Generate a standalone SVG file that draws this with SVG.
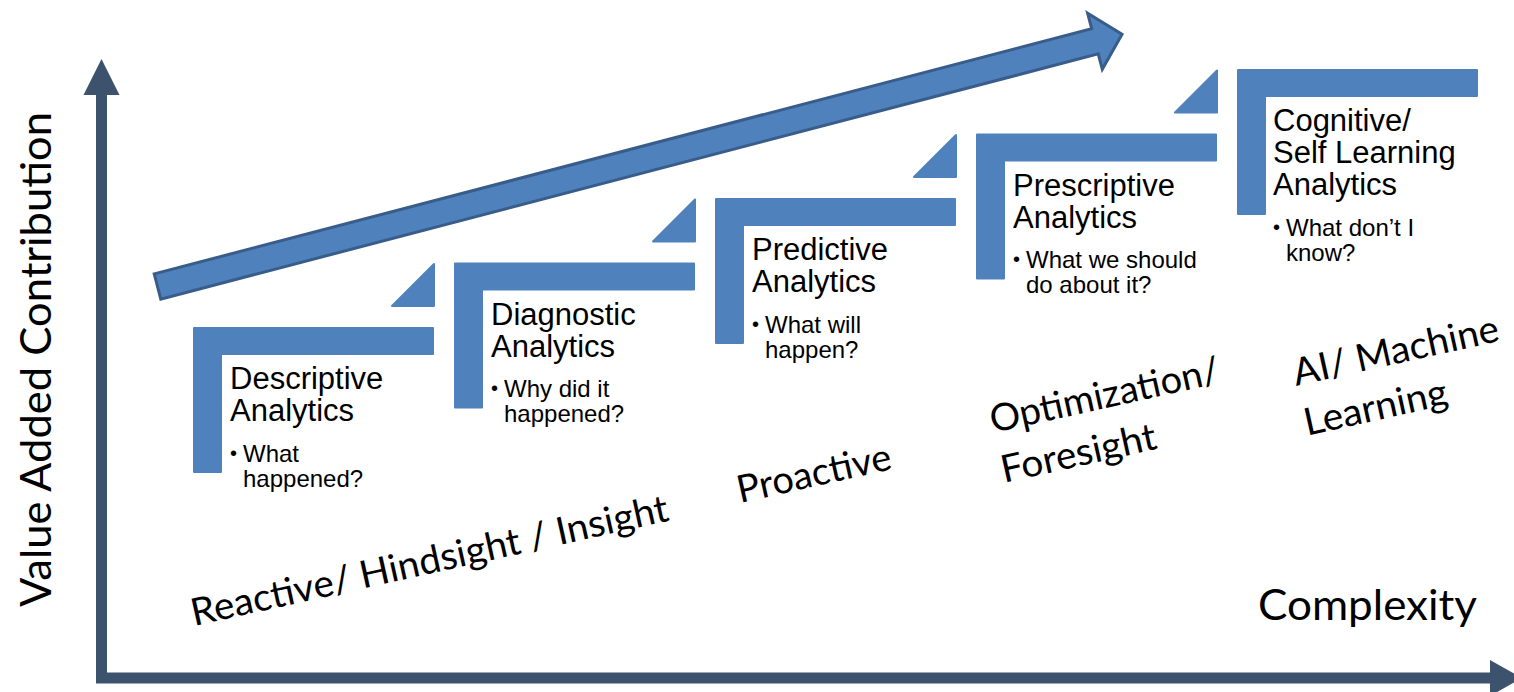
<svg xmlns="http://www.w3.org/2000/svg" xmlns:xlink="http://www.w3.org/1999/xlink" width="1514" height="692" viewBox="0 0 1514 692">
<style>
.step{fill:#4F81BD;stroke:#4F81BD;stroke-width:2;stroke-linejoin:round}
.title{font-family:"Liberation Sans",Arial,sans-serif;font-size:31px;fill:#000}
.bul{font-family:"Liberation Sans",Arial,sans-serif;font-size:24px;fill:#000}
.dot{font-family:"Liberation Sans",Arial,sans-serif;font-size:20px;fill:#000}
.lab{font-family:Lato,"Open Sans",sans-serif;font-size:38px;fill:#000}
.axlab{font-family:Lato,"Open Sans",sans-serif;font-size:42px;fill:#000}
.axis{fill:none;stroke:#3D536D;stroke-width:11}
.axhead{fill:#3D536D}
</style>
<defs>
<path id="L" d="M1,1 H240 V27 H28 V145 H1 Z"/>
<path id="T" d="M43,1 V43 H1 Z"/>
</defs>
<g id="axes">
<path class="axis" d="M101.5,92 V678 H1492"/>
<polygon class="axhead" points="101.5,59 119.5,95 83.5,95"/>
<polygon class="axhead" points="1522,678 1490,660 1490,696"/>
</g>
<g id="connectors">
<polygon points="0,-13 969,-13 969,-29 997,0 969,29 969,13 0,13" transform="translate(157.5,286.5) rotate(-14.66)" fill="#4F81BD" stroke="#385D8A" stroke-width="3" stroke-linejoin="miter"/>
</g>
<g id="triangles">
<use xlink:href="#T" class="step" x="391" y="263"/>
<use xlink:href="#T" class="step" x="652" y="198.5"/>
<use xlink:href="#T" class="step" x="913" y="134"/>
<use xlink:href="#T" class="step" x="1174" y="69.5"/>
</g>
<g id="descriptive">
<use xlink:href="#L" class="step" x="193" y="327"/>
<text class="title" x="230" y="389">Descriptive</text>
<text class="title" x="230" y="421">Analytics</text>
<text class="dot" x="230" y="460">•</text>
<text class="bul" x="243" y="462">What</text>
<text class="bul" x="243" y="487">happened?</text>
</g>
<g id="diagnostic">
<use xlink:href="#L" class="step" x="454" y="262.5"/>
<text class="title" x="491" y="325">Diagnostic</text>
<text class="title" x="491" y="357">Analytics</text>
<text class="dot" x="491" y="395">•</text>
<text class="bul" x="504" y="397">Why did it</text>
<text class="bul" x="504" y="422">happened?</text>
</g>
<g id="predictive">
<use xlink:href="#L" class="step" x="715" y="198"/>
<text class="title" x="752" y="260">Predictive</text>
<text class="title" x="752" y="292">Analytics</text>
<text class="dot" x="752" y="331">•</text>
<text class="bul" x="765" y="333">What will</text>
<text class="bul" x="765" y="358">happen?</text>
</g>
<g id="prescriptive">
<use xlink:href="#L" class="step" x="976" y="133.5"/>
<text class="title" x="1013" y="196">Prescriptive</text>
<text class="title" x="1013" y="228">Analytics</text>
<text class="dot" x="1013" y="266">•</text>
<text class="bul" x="1026" y="268">What we should</text>
<text class="bul" x="1026" y="293">do about it?</text>
</g>
<g id="cognitive">
<use xlink:href="#L" class="step" x="1237" y="69"/>
<text class="title" x="1273" y="131">Cognitive/</text>
<text class="title" x="1273" y="163">Self Learning</text>
<text class="title" x="1273" y="195">Analytics</text>
<text class="dot" x="1273" y="234">•</text>
<text class="bul" x="1286" y="236">What don’t I</text>
<text class="bul" x="1286" y="261">know?</text>
</g>
<g id="labels">
<text class="lab" transform="translate(194,626) rotate(-12.5)" textLength="488" lengthAdjust="spacingAndGlyphs">Reactive/ Hindsight / Insight</text>
<text class="lab" transform="translate(740,503) rotate(-12.5)" textLength="157" lengthAdjust="spacingAndGlyphs">Proactive</text>
<g transform="translate(993,433) rotate(-12.5)">
<text class="lab" x="0" y="0" textLength="234" lengthAdjust="spacingAndGlyphs">Optimization/</text>
<text class="lab" x="0" y="51" textLength="158" lengthAdjust="spacingAndGlyphs">Foresight</text>
</g>
<g transform="translate(1296,386) rotate(-12.5)">
<text class="lab" x="0" y="0" textLength="210" lengthAdjust="spacingAndGlyphs">AI/ Machine</text>
<text class="lab" x="0" y="51" textLength="146" lengthAdjust="spacingAndGlyphs">Learning</text>
</g>
<text class="axlab" x="1258" y="620" textLength="219" lengthAdjust="spacingAndGlyphs">Complexity</text>
<text class="axlab" transform="translate(51,607) rotate(-90)" textLength="495" lengthAdjust="spacingAndGlyphs">Value Added Contribution</text>
</g>
</svg>
